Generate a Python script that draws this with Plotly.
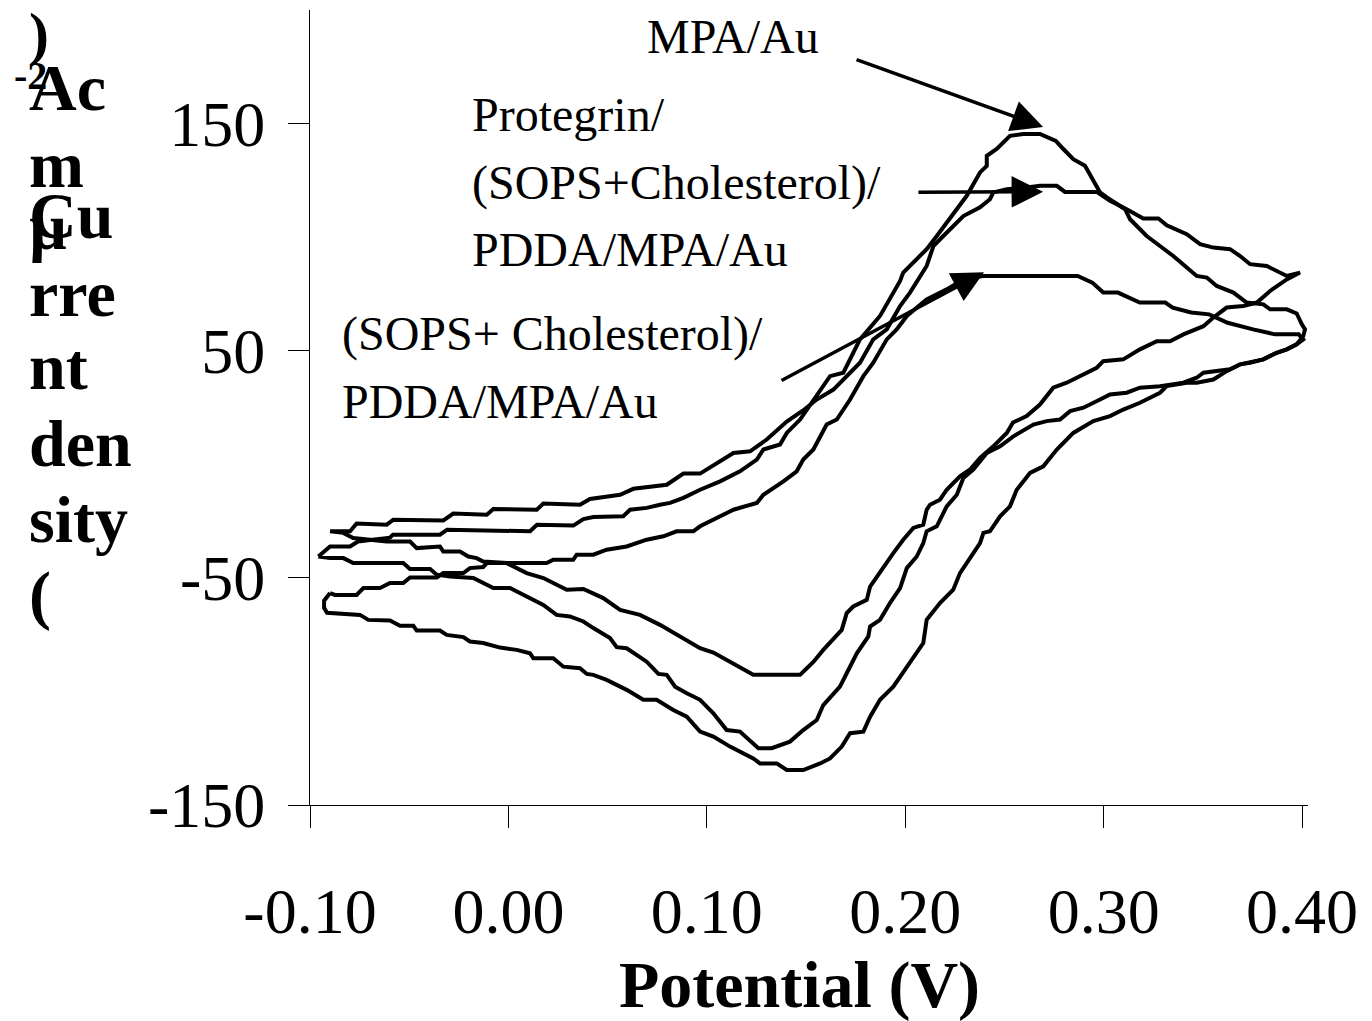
import plotly.graph_objects as go

# ---------------- data (potential in V, current density in uA/cm2) ----------------
mpa_v = [-0.0958, -0.0899, -0.0798, -0.0758, -0.0597, -0.0582, -0.0345, -0.0309, 0.0109, 0.0144,
         0.0327, 0.0378, 0.0428, 0.0579, 0.0613, 0.0697, 0.0764, 0.0815, 0.0882, 0.0966,
         0.1067, 0.1167, 0.1252, 0.1285, 0.1369, 0.1403, 0.1470, 0.1537, 0.1621, 0.1688,
         0.1772, 0.1873, 0.1923, 0.1974, 0.1990, 0.2108, 0.2159, 0.2209, 0.2260, 0.2310,
         0.2377, 0.2411, 0.2411, 0.2461, 0.2528, 0.2595, 0.2679, 0.2759, 0.2797, 0.2847,
         0.2906, 0.2982, 0.3016, 0.3108, 0.3133, 0.3217, 0.3284, 0.3351, 0.3419, 0.3469,
         0.3520, 0.3570, 0.3654, 0.3721, 0.3805, 0.3839, 0.3923, 0.3973, 0.3999, 0.4015,
         0.4006, 0.3973, 0.3923, 0.3872, 0.3805, 0.3738, 0.3688, 0.3637, 0.3570, 0.3503,
         0.3469, 0.3402, 0.3284, 0.3183, 0.3116, 0.3032, 0.2982, 0.2898, 0.2831, 0.2780,
         0.2713, 0.2646, 0.2545, 0.2478, 0.2411, 0.2343, 0.2293, 0.2260, 0.2209, 0.2159,
         0.2108, 0.2091, 0.2058, 0.2008, 0.1974, 0.1923, 0.1873, 0.1823, 0.1814, 0.1756,
         0.1705, 0.1671, 0.1587, 0.1554, 0.1486, 0.1419, 0.1327, 0.1260, 0.1167, 0.1100,
         0.1033, 0.0966, 0.0899, 0.0840, 0.0798, 0.0756, 0.0697, 0.0647, 0.0596, 0.0546,
         0.0512, 0.0428, 0.0378, 0.0310, 0.0243, 0.0176, 0.0092, 0.0008, -0.0076, -0.0143,
         -0.0177, -0.0294, -0.0361, -0.0395, -0.0496, -0.0530, -0.0782, -0.0832, -0.0899, -0.0958]
mpa_j = [-40.6, -36.2, -36.2, -34.0, -32.3, -31.0, -31.0, -28.8, -29.5, -26.6,
         -27.0, -24.1, -23.2, -22.9, -20.0, -19.2, -17.8, -17.0, -14.8, -11.2,
         -7.5, -3.1, 2.1, 6.5, 8.7, 13.8, 19.7, 28.5, 38.8, 40.3,
         55.0, 65.3, 72.6, 80.7, 84.4, 94.7, 100.5, 106.4, 112.3, 118.2,
         128.5, 131.4, 135.8, 138.8, 144.6, 145.4, 145.4, 142.4, 138.8, 134.3,
         131.4, 119.7, 117.5, 112.3, 107.9, 100.5, 96.1, 91.7, 86.6, 82.9,
         82.2, 78.5, 75.6, 71.2, 70.4, 68.2, 68.2, 66.4, 61.6, 59.4,
         56.4, 52.8, 50.6, 49.1, 46.2, 44.7, 44.0, 41.8, 41.0, 40.3,
         38.1, 35.9, 34.4, 33.7, 31.5, 30.7, 28.5, 24.9, 23.4, 19.7,
         19.0, 17.5, 12.3, 7.9, 5.0, -2.3, -6.0, -13.4, -18.5, -27.3,
         -29.5, -34.7, -40.6, -45.7, -54.5, -61.1, -68.5, -71.4, -75.8, -83.2,
         -92.0, -97.9, -106.0, -112.6, -117.0, -122.1, -125.0, -125.0, -117.7, -117.0,
         -109.6, -103.7, -100.8, -97.9, -92.7, -92.3, -86.9, -83.9, -81.0, -80.5,
         -76.5, -72.1, -69.2, -67.0, -66.3, -61.9, -58.2, -54.5, -54.5, -51.6,
         -50.1, -49.4, -48.6, -46.1, -46.1, -43.5, -43.5, -41.3, -41.3, -40.6]

pro_v = [-0.0899, -0.0798, -0.0765, -0.0613, -0.0580, -0.0328, -0.0278, -0.0109, -0.0076, 0.0143,
         0.0176, 0.0310, 0.0361, 0.0411, 0.0563, 0.0630, 0.0798, 0.0882, 0.0966, 0.1134,
         0.1218, 0.1302, 0.1403, 0.1485, 0.1554, 0.1638, 0.1688, 0.1772, 0.1839, 0.1907,
         0.1974, 0.2024, 0.2108, 0.2142, 0.2192, 0.2242, 0.2293, 0.2377, 0.2427, 0.2444,
         0.2512, 0.2612, 0.2679, 0.2764, 0.2805, 0.2965, 0.3032, 0.3116, 0.3200, 0.3276,
         0.3318, 0.3419, 0.3486, 0.3553, 0.3637, 0.3688, 0.3738, 0.3822, 0.3855, 0.3923,
         0.3990, 0.3923, 0.3839, 0.3772, 0.3704, 0.3620, 0.3553, 0.3503, 0.3402, 0.3335,
         0.3268, 0.3183, 0.3099, 0.2998, 0.2965, 0.2814, 0.2746, 0.2679, 0.2612, 0.2543,
         0.2512, 0.2444, 0.2377, 0.2327, 0.2276, 0.2209, 0.2175, 0.2125, 0.2108, 0.2091,
         0.2041, 0.1990, 0.1940, 0.1873, 0.1823, 0.1806, 0.1738, 0.1705, 0.1680, 0.1587,
         0.1537, 0.1504, 0.1470, 0.1234, 0.1117, 0.1033, 0.0966, 0.0865, 0.0764, 0.0663,
         0.0563, 0.0478, 0.0378, 0.0294, 0.0260, 0.0176, 0.0092, -0.0009, -0.0127, -0.0160,
         -0.0202, -0.0244, -0.0328, -0.0345, -0.0462, -0.0496, -0.0613, -0.0782, -0.0832, -0.0899]
pro_j = [-29.5, -29.5, -26.1, -26.6, -24.4, -24.7, -21.7, -22.2, -19.7, -20.0,
         -17.3, -17.8, -17.8, -15.3, -13.4, -10.8, -9.0, -4.1, -4.1, 5.0,
         5.7, 10.9, 18.8, 23.7, 28.5, 32.9, 37.3, 44.7, 55.0, 59.4,
         69.7, 75.6, 87.3, 96.1, 100.5, 104.9, 109.3, 113.1, 116.7, 119.7,
         121.1, 121.9, 122.6, 122.6, 119.9, 119.9, 116.0, 112.3, 108.2, 108.2,
         105.2, 101.3, 96.9, 95.4, 94.7, 91.7, 88.1, 87.3, 85.8, 82.9,
         84.4, 81.4, 76.3, 71.2, 69.7, 69.0, 64.6, 60.8, 57.2, 54.2,
         54.2, 50.6, 46.2, 45.4, 42.5, 35.9, 33.7, 26.3, 21.2, 18.4,
         13.8, 7.9, 2.8, -2.3, -5.3, -11.2, -15.6, -17.8, -20.0, -26.6,
         -28.0, -33.2, -39.1, -47.2, -53.8, -59.7, -62.6, -65.5, -72.9, -81.7,
         -87.0, -89.8, -92.7, -92.7, -86.9, -82.9, -81.0, -75.8, -70.7, -66.3,
         -64.1, -58.9, -54.9, -55.2, -53.8, -50.1, -47.9, -43.5, -42.8, -41.3,
         -40.6, -38.4, -38.4, -36.2, -36.9, -34.0, -34.0, -32.5, -30.2, -29.5]

sops_v = [-0.0899, -0.0874, -0.0765, -0.0731, -0.0647, -0.0597, -0.0530, -0.0496, -0.0361, -0.0328,
          -0.0227, -0.0194, -0.0127, -0.0109, -0.0009, 0.0193, 0.0226, 0.0327, 0.0344, 0.0428,
          0.0495, 0.0596, 0.0697, 0.0781, 0.0848, 0.0932, 0.0966, 0.1067, 0.1134, 0.1252,
          0.1285, 0.1386, 0.1453, 0.1486, 0.1537, 0.1604, 0.1655, 0.1722, 0.1789, 0.1839,
          0.1907, 0.1957, 0.2008, 0.2108, 0.2209, 0.2293, 0.2391, 0.2869, 0.2943, 0.2998,
          0.3072, 0.3182, 0.3311, 0.3348, 0.3441, 0.3532, 0.3625, 0.3753, 0.3864, 0.3983,
          0.4006, 0.3973, 0.3923, 0.3872, 0.3805, 0.3738, 0.3688, 0.3620, 0.3553, 0.3469,
          0.3419, 0.3318, 0.3284, 0.3183, 0.3099, 0.3032, 0.2948, 0.2847, 0.2764, 0.2696,
          0.2629, 0.2562, 0.2528, 0.2478, 0.2427, 0.2394, 0.2377, 0.2276, 0.2242, 0.2175,
          0.2108, 0.2091, 0.2008, 0.1940, 0.1873, 0.1823, 0.1789, 0.1722, 0.1680, 0.1621,
          0.1571, 0.1486, 0.1403, 0.1352, 0.1268, 0.1234, 0.1117, 0.1033, 0.0966, 0.0899,
          0.0831, 0.0747, 0.0680, 0.0630, 0.0596, 0.0495, 0.0428, 0.0395, 0.0361, 0.0277,
          0.0226, 0.0126, 0.0109, 0.0042, -0.0042, -0.0127, -0.0194, -0.0227, -0.0311, -0.0345,
          -0.0462, -0.0479, -0.0546, -0.0597, -0.0706, -0.0748, -0.0914, -0.0929, -0.0929, -0.0899]
sops_j = [-56.7, -57.5, -57.5, -54.5, -54.5, -52.3, -52.3, -49.8, -49.8, -47.9,
          -47.9, -45.7, -45.2, -43.5, -43.5, -43.5, -42.0, -42.0, -39.8, -39.8,
          -37.6, -36.2, -33.2, -31.7, -29.5, -29.5, -27.3, -22.9, -20.0, -17.0,
          -13.4, -7.5, -3.1, 2.1, 6.5, 17.5, 19.7, 28.5, 38.8, 44.7,
          55.0, 59.4, 65.3, 72.6, 77.0, 81.4, 82.9, 82.9, 80.0, 75.6,
          75.6, 71.2, 71.2, 69.0, 66.8, 66.0, 62.3, 59.4, 57.2, 57.2,
          55.0, 52.8, 50.6, 49.1, 46.2, 44.7, 44.0, 41.0, 37.3, 35.9,
          35.9, 34.4, 31.5, 27.1, 24.1, 21.2, 19.0, 13.8, 6.5, -0.9,
          -3.8, -11.2, -18.5, -22.9, -29.5, -30.2, -34.7, -47.9, -55.2, -61.1,
          -68.5, -78.7, -89.1, -97.9, -103.7, -111.1, -117.7, -118.4, -124.3, -129.5,
          -131.7, -134.6, -134.6, -131.7, -131.7, -129.5, -124.3, -119.9, -117.7, -111.1,
          -108.2, -103.7, -103.7, -100.8, -99.3, -94.9, -92.7, -92.3, -89.8, -89.1,
          -85.4, -85.4, -83.2, -81.7, -80.7, -78.7, -78.0, -76.1, -75.1, -73.2,
          -73.2, -71.1, -71.1, -68.8, -68.5, -66.3, -65.4, -63.2, -60.1, -56.7]

x_ticks = [-0.10, 0.00, 0.10, 0.20, 0.30, 0.40]
x_tick_labels = ["-0.10", "0.00", "0.10", "0.20", "0.30", "0.40"]
y_ticks = [-150, -50, 50, 150]
y_tick_labels = ["-150", "-50", "50", "150"]

# annotation arrows: (tail potential, tail current, head potential, head current)
arrow_mpa = (0.1747, 178.4, 0.2695, 148.5)
arrow_pro = (0.2059, 119.8, 0.2695, 120.0)
arrow_sops = (0.1369, 36.5, 0.2397, 84.5)

SERIF = "Liberation Serif, Times New Roman, serif"

fig = go.Figure()
for v, j, nm in [(mpa_v, mpa_j, "MPA/Au"),
                 (pro_v, pro_j, "Protegrin/(SOPS+Cholesterol)/PDDA/MPA/Au"),
                 (sops_v, sops_j, "(SOPS+Cholesterol)/PDDA/MPA/Au")]:
    fig.add_trace(go.Scatter(x=v, y=j, mode="lines", name=nm, showlegend=False,
                             line=dict(color="black", width=4)))

W, H = 1372, 1021
L, R, T, B = 310, 64, 10, 216
pw, ph = W - L - R, H - T - B


def px(xp):
    return (xp - L) / pw


def py(yp):
    return (H - B - yp) / ph


annos = []


def text(t, xp, yc, size, bold=False, anchor="left"):
    annos.append(dict(text=("<b>%s</b>" % t) if bold else t, xref="paper", yref="paper",
                      x=px(xp), y=py(yc), xanchor=anchor, yanchor="middle", showarrow=False,
                      font=dict(family=SERIF, size=size, color="black")))


# curve labels
text("MPA/Au", 645, 37, 48)
text("Protegrin/", 470, 115, 48)
text("(SOPS+Cholesterol)/", 470, 183, 48)
text("PDDA/MPA/Au", 470, 249, 48)
text("(SOPS+ Cholesterol)/", 340, 334, 48)
text("PDDA/MPA/Au", 340, 401, 48)

# y axis title (wrapped as in the original)
text("Cu", 27, 215, 66, True)
text("rre", 27, 293, 66, True)
text("nt", 27, 366, 66, True)
text("den", 27, 443, 66, True)
text("sity", 27, 519, 66, True)
text("(", 27, 595, 66, True)
text(")", 27, 34, 60, True)
text("-2", 12, 76, 40, True)
text("Ac", 27, 88, 66, True)
text("m", 27, 165, 66, True)
text("µ", 27, 226, 66, True)

# x axis title
text("Potential (V)", 799, 985, 66, True, anchor="center")

for (x0, y0, x1, y1) in [arrow_mpa, arrow_pro, arrow_sops]:
    annos.append(dict(text="", x=x1, y=y1, ax=x0, ay=y0, xref="x", yref="y",
                      axref="x", ayref="y", showarrow=True, arrowhead=2,
                      arrowsize=1.8, arrowwidth=3.5, arrowcolor="black"))

fig.update_layout(
    width=W, height=H,
    margin=dict(l=L, r=R, t=T, b=B),
    paper_bgcolor="white", plot_bgcolor="white",
    annotations=annos,
    xaxis=dict(range=[-0.1, 0.403], tickvals=x_ticks, ticktext=x_tick_labels,
               showgrid=False, zeroline=False, showline=True, linecolor="black", linewidth=1,
               ticks="outside", ticklen=22, tickwidth=1, tickcolor="black",
               ticklabelstandoff=28,
               tickfont=dict(family=SERIF, size=64, color="black")),
    yaxis=dict(range=[-150, 200], tickvals=y_ticks, ticktext=y_tick_labels,
               showgrid=False, zeroline=False, showline=True, linecolor="black", linewidth=1,
               ticks="outside", ticklen=21, tickwidth=1, tickcolor="black",
               ticklabelstandoff=10,
               tickfont=dict(family=SERIF, size=64, color="black")),
)

fig.write_html("out.html")
